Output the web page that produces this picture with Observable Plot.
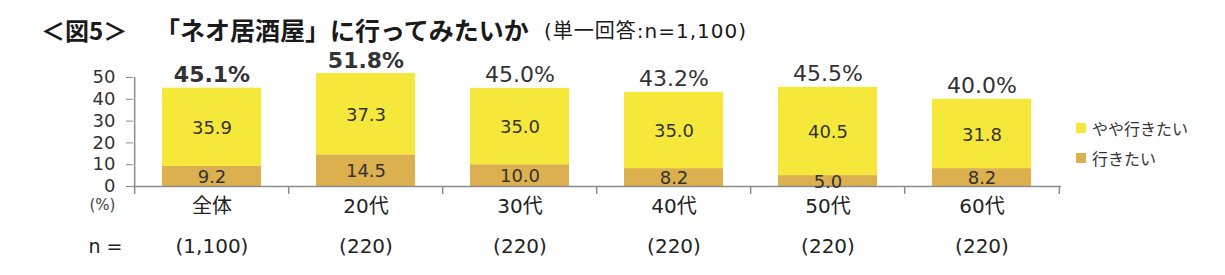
<!DOCTYPE html>
<html>
<head>
<meta charset="utf-8">
<script src="https://cdn.jsdelivr.net/npm/d3@7"></script>
<script src="https://cdn.jsdelivr.net/npm/@observablehq/plot@0.6"></script>
<style>
  html, body { margin: 0; padding: 0; background: #fff; }
  #wrap { position: relative; width: 1225px; height: 275px; overflow: hidden;
          font-family: "DejaVu Sans", "Noto Sans CJK JP", sans-serif; color: #333; }
  .t { position: absolute; white-space: nowrap; color: #1a1a1a; line-height: 1; }
  #fig { left: 41px; top: 18px; font-family: "Noto Sans CJK JP", sans-serif; font-weight: 700; font-size: 24px; }
  #main { left: 155px; top: 17px; font-family: "Noto Sans CJK JP", sans-serif; font-weight: 700; font-size: 25px; }
  #sub { left: 544px; top: 21px; font-family: "DejaVu Sans", "Noto Sans CJK JP", sans-serif; font-weight: 400; font-size: 20px; letter-spacing: 1px; }
  #legend { position: absolute; left: 1076px; top: 118px; font-family: "Noto Sans CJK JP", sans-serif; font-size: 16px; color: #333; }
  #legend .item { display: flex; align-items: center; height: 20px; margin-bottom: 10px; }
  #legend .sw { width: 10px; height: 10px; margin-right: 6px; }
  #chart { position: absolute; left: 0; top: 0; }
</style>
</head>
<body>
<div id="wrap">
  <div id="chart"></div>
  <div class="t" id="fig">＜図5＞</div>
  <div class="t" id="main">「ネオ居酒屋」に行ってみたいか</div>
  <div class="t" id="sub">(単一回答:n=1,100)</div>
  <div id="legend"></div>
</div>
<script>
// ---- data ----
const categories = ["全体", "20代", "30代", "40代", "50代", "60代"];
const nLabels = ["(1,100)", "(220)", "(220)", "(220)", "(220)", "(220)"];
const seriesNames = ["行きたい", "やや行きたい"];      // bottom → top
const seriesColors = ["#DCB04E", "#F6E83A"];
const ikitai = [9.2, 14.5, 10.0, 8.2, 5.0, 8.2];       // 行きたい
const yayaIkitai = [35.9, 37.3, 35.0, 35.0, 40.5, 31.8]; // やや行きたい
const totals = [45.1, 51.8, 45.0, 43.2, 45.5, 40.0];
const boldTotalCats = ["全体", "20代"];
const yTicks = [0, 10, 20, 30, 40, 50];

// ---- derived tables ----
const rows = [];
categories.forEach((c, i) => {
  rows.push({cat: c, series: seriesNames[0], value: ikitai[i]});
  rows.push({cat: c, series: seriesNames[1], value: yayaIkitai[i]});
});
const totalRows = categories.map((c, i) => ({cat: c, total: totals[i], n: nLabels[i]}));

const W = 1225, H = 275;
const mL = 133, mR = 164, mT = 77, mB = 89;
const step = (W - mL - mR) / categories.length;
const txt = "#333";
const axisGray = "#8c8c8c";
const font = "'DejaVu Sans', 'Noto Sans CJK JP', sans-serif";

const plot = Plot.plot({
  width: W,
  height: H,
  marginLeft: mL,
  marginRight: mR,
  marginTop: mT,
  marginBottom: mB,
  style: {fontFamily: font, color: txt, background: "transparent", overflow: "visible"},
  x: {domain: categories, paddingInner: 0.355, paddingOuter: 0.1775, axis: null},
  y: {domain: [0, 50], axis: null},
  color: {domain: seriesNames, range: seriesColors},
  marks: [
    Plot.barY(rows, {x: "cat", y: "value", fill: "series"}),
    // axes
    Plot.ruleY([0], {stroke: axisGray, strokeWidth: 1.5}),
    Plot.ruleX([categories[0]], {stroke: axisGray, strokeWidth: 1.5, dx: -step / 2, insetBottom: -8}),
    Plot.ruleX(categories.slice(1), {y1: 0, y2: 0, stroke: axisGray, strokeWidth: 1.5, dx: -step / 2, insetBottom: -8}),
    Plot.ruleX([categories[categories.length - 1]], {y1: 0, y2: 0, stroke: axisGray, strokeWidth: 1.5, dx: step / 2, insetBottom: -8}),
    Plot.axisY({ticks: yTicks, tickSize: 7, tickPadding: 11, fontSize: 18, stroke: axisGray, fill: txt, label: null,
      tickFormat: d => String(d)}),
    // segment labels
    Plot.text(rows, Plot.stackY({x: "cat", y: "value", z: "series", text: d => d.value.toFixed(1),
      fontSize: 18, fill: txt, dy: 1})),
    // totals
    Plot.text(totalRows.filter(d => boldTotalCats.includes(d.cat)), {x: "cat", y: "total",
      text: d => d.total.toFixed(1) + "%", lineAnchor: "bottom", dy: -6, fontSize: 22, fontWeight: "bold", fill: txt}),
    Plot.text(totalRows.filter(d => !boldTotalCats.includes(d.cat)), {x: "cat", y: "total",
      text: d => d.total.toFixed(1) + "%", lineAnchor: "bottom", dy: -6, fontSize: 22, fill: txt}),
    // category labels
    Plot.text(categories, {x: d => d, frameAnchor: "bottom", dy: 26, text: d => d, fontSize: 20, fill: "#222"}),
    // n row
    Plot.text(totalRows, {x: "cat", frameAnchor: "bottom", dy: 66, text: "n", fontSize: 20, fill: "#222"}),
    Plot.text(["n ="], {frameAnchor: "bottom-left", dx: -45, dy: 66, textAnchor: "start", text: d => d, fontSize: 19, fill: "#222"}),
    Plot.text(["(%)"], {frameAnchor: "bottom-left", dx: -44, dy: 23, textAnchor: "start", text: d => d, fontSize: 15, fill: "#444"})
  ]
});
document.getElementById("chart").appendChild(plot);

// legend (top series first)
const legend = d3.select("#legend");
[1, 0].forEach(i => {
  const item = legend.append("div").attr("class", "item");
  item.append("div").attr("class", "sw").style("background", seriesColors[i]);
  item.append("span").text(seriesNames[i]);
});
</script>
</body>
</html>
